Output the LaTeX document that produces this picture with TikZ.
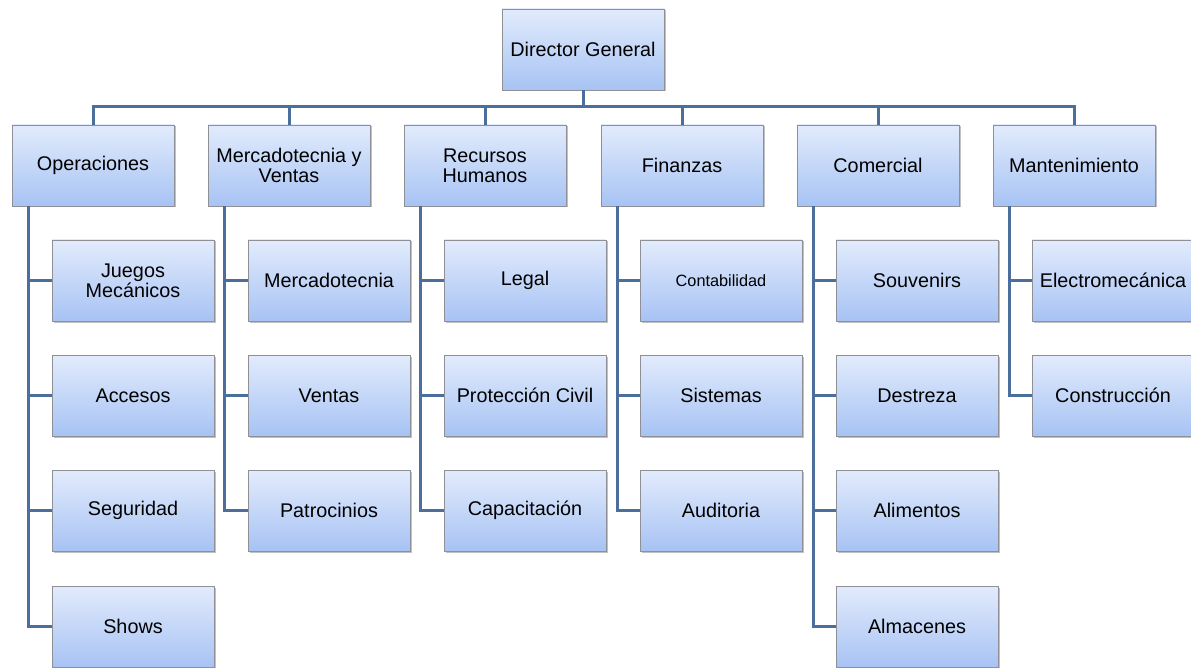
\documentclass[tikz,border=0pt]{standalone}
\usepackage{fontspec}
\setmainfont{Liberation Sans}
\usetikzlibrary{shadows}
\definecolor{linec}{HTML}{4B6E9C}
\definecolor{topc}{HTML}{E2EBFC}
\definecolor{botc}{HTML}{A7C3F4}
\definecolor{bordc}{HTML}{8E9096}
\tikzset{
  orgbox/.style={draw=bordc, line width=0.8pt, top color=topc, bottom color=botc,
    minimum width=162pt, minimum height=81pt, inner sep=2pt, align=center,
    font=\fontsize{19.8}{20}\selectfont, text=black,
    drop shadow={shadow xshift=1.5pt, shadow yshift=-1.5pt, opacity=0.35, fill=black!70}},
  conn/.style={draw=linec, line width=3pt}
}
\begin{document}
\begin{tikzpicture}[x=1pt,y=-1pt]
\useasboundingbox (0,0) rectangle (1191,668);
% top
\node[orgbox] (dg) at (583,49.5) {Director General};
\coordinate (bus) at (583,107);
% level 1
\node[orgbox] (op) at (93,165.5) {Operaciones};
\node[orgbox] (mv) at (289,165.5) {Mercadotecnia y\\Ventas};
\node[orgbox] (rh) at (485,165.5) {Recursos\\Humanos};
\node[orgbox] (fi) at (682,165.5) {Finanzas};
\node[orgbox] (co) at (878,165.5) {Comercial};
\node[orgbox] (ma) at (1074,165.5) {Mantenimiento};
% children
\node[orgbox] (op1) at (133,280.5) {Juegos\\Mecánicos};
\node[orgbox] (op2) at (133,395.5) {Accesos};
\node[orgbox] (op3) at (133,510.5) {Seguridad};
\node[orgbox] (op4) at (133,626.5) {Shows};
\node[orgbox] (mv1) at (329,280.5) {Mercadotecnia};
\node[orgbox] (mv2) at (329,395.5) {Ventas};
\node[orgbox] (mv3) at (329,510.5) {Patrocinios};
\node[orgbox] (rh1) at (525,280.5) {Legal};
\node[orgbox] (rh2) at (525,395.5) {Protección Civil};
\node[orgbox] (rh3) at (525,510.5) {Capacitación};
\node[orgbox, font=\fontsize{16.3}{17}\selectfont] (fi1) at (721,280.5) {Contabilidad};
\node[orgbox] (fi2) at (721,395.5) {Sistemas};
\node[orgbox] (fi3) at (721,510.5) {Auditoria};
\node[orgbox] (co1) at (917,280.5) {Souvenirs};
\node[orgbox] (co2) at (917,395.5) {Destreza};
\node[orgbox] (co3) at (917,510.5) {Alimentos};
\node[orgbox] (co4) at (917,626.5) {Almacenes};
\node[orgbox] (ma1) at (1113,280.5) {Electromecánica};
\node[orgbox] (ma2) at (1113,395.5) {Construcción};
% connectors
\draw[conn] (dg.south) -- (bus);
\draw[conn] (op.north) -- (op.north |- bus) -- (ma.north |- bus) -- (ma.north);
\foreach \n in {mv,rh,fi,co} { \draw[conn] (\n.north |- bus) -- (\n.north); }
\foreach \p/\c in {op/op1,op/op2,op/op3,op/op4,mv/mv1,mv/mv2,mv/mv3,rh/rh1,rh/rh2,rh/rh3,fi/fi1,fi/fi2,fi/fi3,co/co1,co/co2,co/co3,co/co4,ma/ma1,ma/ma2} {
  \draw[conn] ([xshift=17pt]\p.south west) |- (\c.west);
}
\end{tikzpicture}
\end{document}
